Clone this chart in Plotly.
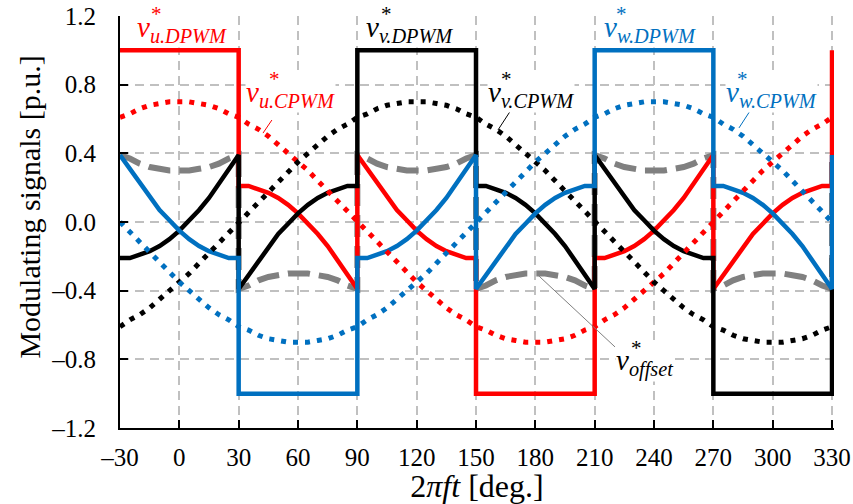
import plotly.graph_objects as go

# ---------------- data ----------------
deg = list(range(-30, 335, 5))                      # electrical angle grid [deg]
seg_start = [-30, 30, 90, 150, 210, 270]            # 60-deg clamping segments
deg_d = [s + 5 * j for s in seg_start for j in range(13)] + [330]

u_cpwm = [0.61, 0.63, 0.66, 0.68, 0.69, 0.70, 0.70, 0.70, 0.69, 0.68, 0.66, 0.63, 0.61,
          0.57, 0.54, 0.50, 0.45, 0.40, 0.35, 0.30, 0.24, 0.18, 0.12, 0.06, 0.00,
          -0.06, -0.12, -0.18, -0.24, -0.30, -0.35, -0.40, -0.45, -0.50, -0.54, -0.57, -0.61,
          -0.63, -0.66, -0.68, -0.69, -0.70, -0.70, -0.70, -0.69, -0.68, -0.66, -0.63, -0.61,
          -0.57, -0.54, -0.50, -0.45, -0.40, -0.35, -0.30, -0.24, -0.18, -0.12, -0.06, 0.00,
          0.06, 0.12, 0.18, 0.24, 0.30, 0.35, 0.40, 0.45, 0.50, 0.54, 0.57, 0.61]
v_cpwm = [-0.61, -0.57, -0.54, -0.50, -0.45, -0.40, -0.35, -0.30, -0.24, -0.18, -0.12, -0.06,
          0.00, 0.06, 0.12, 0.18, 0.24, 0.30, 0.35, 0.40, 0.45, 0.50, 0.54, 0.57,
          0.61, 0.63, 0.66, 0.68, 0.69, 0.70, 0.70, 0.70, 0.69, 0.68, 0.66, 0.63, 0.61,
          0.57, 0.54, 0.50, 0.45, 0.40, 0.35, 0.30, 0.24, 0.18, 0.12, 0.06, 0.00,
          -0.06, -0.12, -0.18, -0.24, -0.30, -0.35, -0.40, -0.45, -0.50, -0.54, -0.57, -0.61,
          -0.63, -0.66, -0.68, -0.69, -0.70, -0.70, -0.70, -0.69, -0.68, -0.66, -0.63, -0.61]
w_cpwm = [0.00, -0.06, -0.12, -0.18, -0.24, -0.30, -0.35, -0.40, -0.45, -0.50, -0.54, -0.57, -0.61,
          -0.63, -0.66, -0.68, -0.69, -0.70, -0.70, -0.70, -0.69, -0.68, -0.66, -0.63, -0.61,
          -0.57, -0.54, -0.50, -0.45, -0.40, -0.35, -0.30, -0.24, -0.18, -0.12, -0.06, 0.00,
          0.06, 0.12, 0.18, 0.24, 0.30, 0.35, 0.40, 0.45, 0.50, 0.54, 0.57, 0.61,
          0.63, 0.66, 0.68, 0.69, 0.70, 0.70, 0.70, 0.69, 0.68, 0.66, 0.63, 0.61,
          0.57, 0.54, 0.50, 0.45, 0.40, 0.35, 0.30, 0.24, 0.18, 0.12, 0.06, 0.00]

u_dpwm = [1, 1, 1, 1, 1, 1, 1, 1, 1, 1, 1, 1, 1,
          0.21, 0.21, 0.19, 0.17, 0.14, 0.10, 0.05, -0.01, -0.07, -0.14, -0.22, -0.31, -0.39,
          0.39, 0.31, 0.22, 0.14, 0.07, 0.01, -0.05, -0.10, -0.14, -0.17, -0.19, -0.21, -0.21,
          -1, -1, -1, -1, -1, -1, -1, -1, -1, -1, -1, -1, -1,
          -0.21, -0.21, -0.19, -0.17, -0.14, -0.10, -0.05, 0.01, 0.07, 0.14, 0.22, 0.31, 0.39,
          -0.39, -0.31, -0.22, -0.14, -0.07, -0.01, 0.05, 0.10, 0.14, 0.17, 0.19, 0.21, 0.21,
          1]
v_dpwm = [-0.21, -0.21, -0.19, -0.17, -0.14, -0.10, -0.05, 0.01, 0.07, 0.14, 0.22, 0.31, 0.39,
          -0.39, -0.31, -0.22, -0.14, -0.07, -0.01, 0.05, 0.10, 0.14, 0.17, 0.19, 0.21, 0.21,
          1, 1, 1, 1, 1, 1, 1, 1, 1, 1, 1, 1, 1,
          0.21, 0.21, 0.19, 0.17, 0.14, 0.10, 0.05, -0.01, -0.07, -0.14, -0.22, -0.31, -0.39,
          0.39, 0.31, 0.22, 0.14, 0.07, 0.01, -0.05, -0.10, -0.14, -0.17, -0.19, -0.21, -0.21,
          -1, -1, -1, -1, -1, -1, -1, -1, -1, -1, -1, -1, -1,
          -0.21]
w_dpwm = [0.39, 0.31, 0.22, 0.14, 0.07, 0.01, -0.05, -0.10, -0.14, -0.17, -0.19, -0.21, -0.21,
          -1, -1, -1, -1, -1, -1, -1, -1, -1, -1, -1, -1, -1,
          -0.21, -0.21, -0.19, -0.17, -0.14, -0.10, -0.05, 0.01, 0.07, 0.14, 0.22, 0.31, 0.39,
          -0.39, -0.31, -0.22, -0.14, -0.07, -0.01, 0.05, 0.10, 0.14, 0.17, 0.19, 0.21, 0.21,
          1, 1, 1, 1, 1, 1, 1, 1, 1, 1, 1, 1, 1,
          0.21, 0.21, 0.19, 0.17, 0.14, 0.10, 0.05, -0.01, -0.07, -0.14, -0.22, -0.31, -0.39,
          0.39]
v_offset = [0.39, 0.37, 0.34, 0.32, 0.31, 0.30, 0.30, 0.30, 0.31, 0.32, 0.34, 0.37, 0.39,
            -0.39, -0.37, -0.34, -0.32, -0.31, -0.30, -0.30, -0.30, -0.31, -0.32, -0.34, -0.37, -0.39,
            0.39, 0.37, 0.34, 0.32, 0.31, 0.30, 0.30, 0.30, 0.31, 0.32, 0.34, 0.37, 0.39,
            -0.39, -0.37, -0.34, -0.32, -0.31, -0.30, -0.30, -0.30, -0.31, -0.32, -0.34, -0.37, -0.39,
            0.39, 0.37, 0.34, 0.32, 0.31, 0.30, 0.30, 0.30, 0.31, 0.32, 0.34, 0.37, 0.39,
            -0.39, -0.37, -0.34, -0.32, -0.31, -0.30, -0.30, -0.30, -0.31, -0.32, -0.34, -0.37, -0.39,
            0.39]

x_ticks = [-30, 0, 30, 60, 90, 120, 150, 180, 210, 240, 270, 300, 330]
x_ticklabels = ["–30", "0", "30", "60", "90", "120", "150", "180", "210", "240", "270", "300", "330"]
y_ticks = [-1.2, -0.8, -0.4, 0.0, 0.4, 0.8, 1.2]
y_ticklabels = ["–1.2", "–0.8", "–0.4", "0.0", "0.4", "0.8", "1.2"]

# ---------------- style ----------------
FONT = "Liberation Serif, Times New Roman, serif"
RED, BLACK, BLUE, GRAY = "#FF0000", "#000000", "#0070C0", "#808080"
GRID = "#C0C0C0"

fig = go.Figure()
fig.add_trace(go.Scatter(x=deg_d, y=v_offset, mode="lines",
                         line=dict(color=GRAY, width=6, dash="22px,9px")))
for ys, col in [(u_dpwm, RED), (v_dpwm, BLACK), (w_dpwm, BLUE)]:
    fig.add_trace(go.Scatter(x=deg_d, y=ys, mode="lines", line=dict(color=col, width=4.5)))
for ys, col in [(u_cpwm, RED), (v_cpwm, BLACK), (w_cpwm, BLUE)]:
    fig.add_trace(go.Scatter(x=deg, y=ys, mode="lines",
                             line=dict(color=col, width=5, dash="5px,7px")))

axis_common = dict(
    ticks="inside", ticklen=8, tickwidth=2, tickcolor="black",
    showline=True, linecolor="black", linewidth=2,
    showgrid=True, gridcolor=GRID, gridwidth=2, griddash="9px,6px",
    zeroline=False, automargin=False,
    tickfont=dict(family=FONT, size=25, color="black"),
)
fig.update_xaxes(range=[-30, 331], tickmode="array", tickvals=x_ticks, ticktext=x_ticklabels,
                 ticklabelstandoff=6,
                 title=dict(text="2<i>πft</i> [deg.]", font=dict(family=FONT, size=32),
                            standoff=2),
                 **axis_common)
fig.update_yaxes(range=[-1.2, 1.2], tickmode="array", tickvals=y_ticks, ticktext=y_ticklabels,
                 ticklabelstandoff=17, **axis_common)

# y-axis title (placed as rotated text, slightly above the plot centre as in the reference)
fig.add_annotation(xref="paper", yref="paper", x=-0.126, y=0.535, xanchor="center", yanchor="middle",
                   text="Modulating signals [p.u.]", textangle=-90, showarrow=False,
                   font=dict(family=FONT, size=30, color="black"))

# ---------------- labels ----------------
def ypaper(v):
    return (v + 1.2) / 2.4

labels = [
    ("u.DPWM", RED, -21.9, 1.122, -11.3, 1.210),
    ("u.CPWM", RED, 33.2, 0.745, 47.9, 0.835),
    ("v.DPWM", BLACK, 93.9, 1.122, 104.5, 1.210),
    ("v.CPWM", BLACK, 155.6, 0.745, 165.2, 0.835),
    ("w.DPWM", BLUE, 214.2, 1.122, 223.8, 1.210),
    ("w.CPWM", BLUE, 275.9, 0.745, 284.5, 0.835),
    ("offset", BLACK, 220.3, -0.816, 230.9, -0.735),
]
for sub, col, lx, ly, sx, sy in labels:
    fig.add_annotation(x=lx, y=ypaper(ly), xref="x", yref="paper", xanchor="left", yanchor="middle",
                       text=f"<i>v</i><sub><i>{sub}</i></sub>", showarrow=False,
                       font=dict(family=FONT, size=29, color=col),
                       bgcolor="white", borderpad=0)
for sub, col, lx, ly, sx, sy in labels:
    fig.add_annotation(x=sx, y=ypaper(sy), xref="x", yref="paper", xanchor="center", yanchor="middle",
                       text="*", showarrow=False,
                       font=dict(family=FONT, size=21, color=col))

leaders = [
    (RED, 46.8, 0.594, 42.3, 0.518),
    (BLACK, 168.7, 0.670, 161.1, 0.536),
    (BLUE, 289.5, 0.664, 282.96, 0.548),
    (GRAY, 181.3, -0.309, 220.3, -0.728),
]
for col, x0, y0, x1, y1 in leaders:
    fig.add_shape(type="line", xref="x", yref="y", x0=x0, y0=y0, x1=x1, y1=y1,
                  line=dict(color=col, width=1))

fig.update_layout(
    width=853, height=504,
    margin=dict(l=120, r=19, t=16, b=76),
    plot_bgcolor="white", paper_bgcolor="white",
    showlegend=False,
    font=dict(family=FONT, color="black", size=25),
)
fig.write_html("out.html", config={"displayModeBar": False},
               post_script="document.body.style.margin='0';")
